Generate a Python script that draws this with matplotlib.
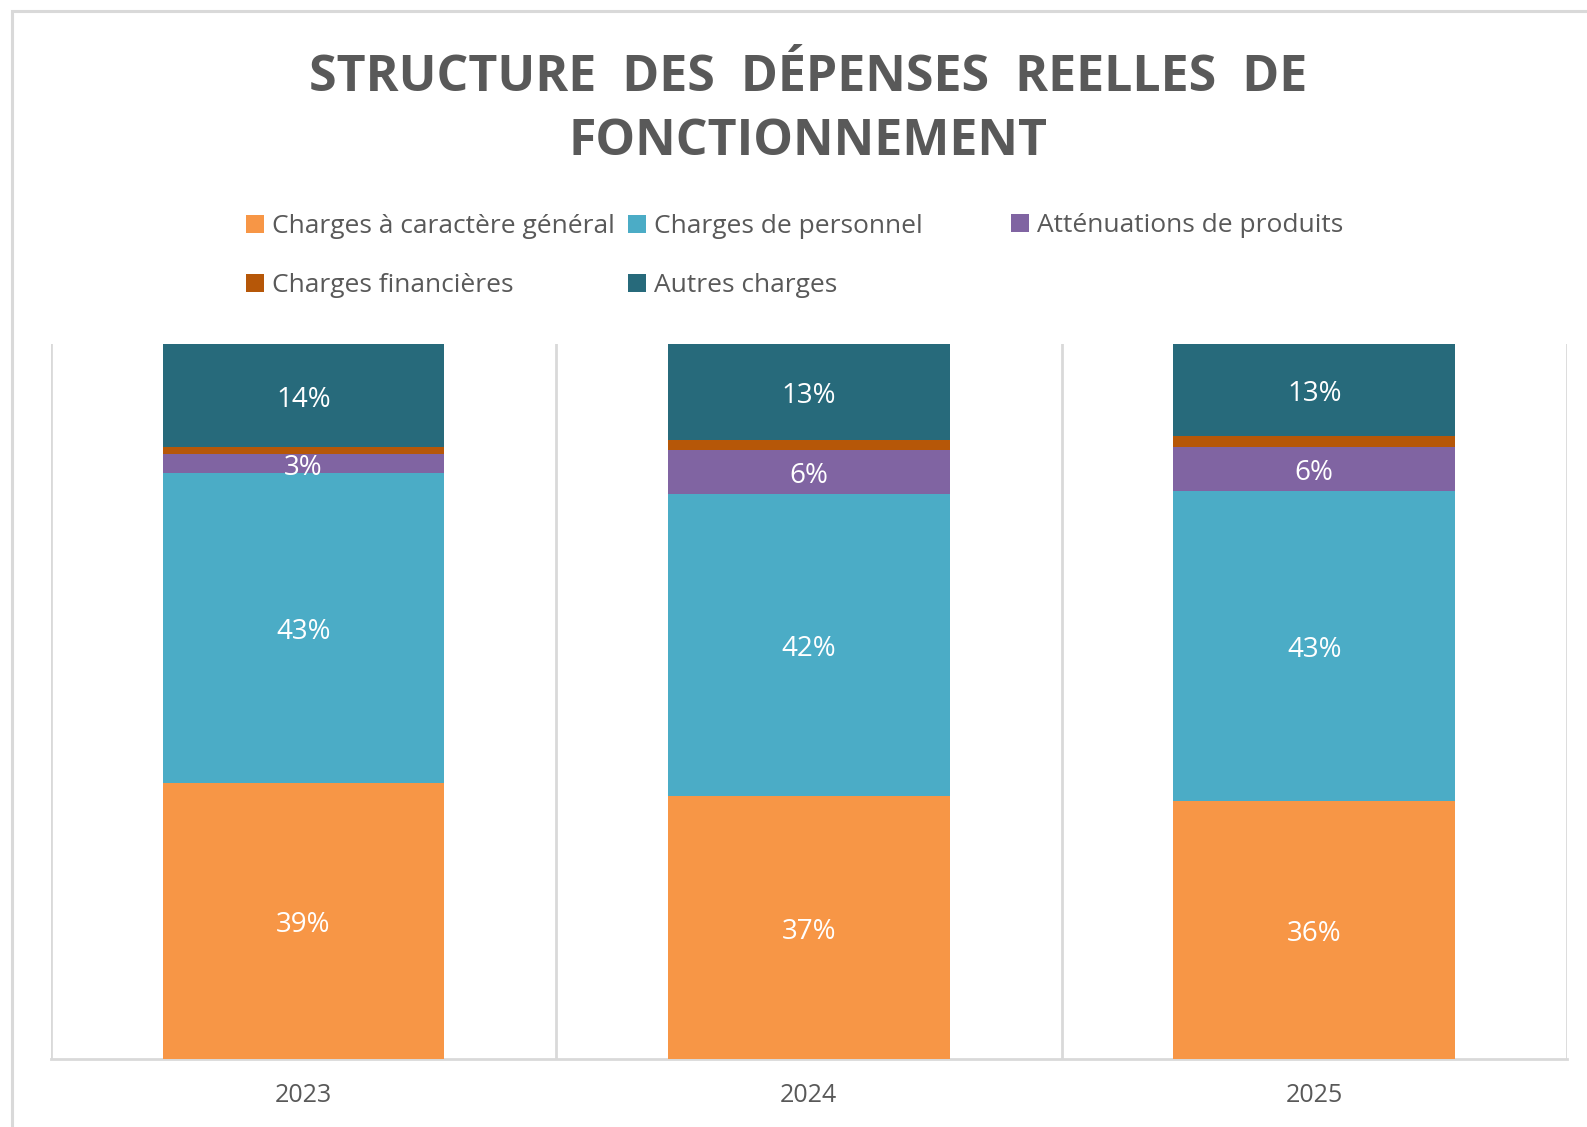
import matplotlib.pyplot as plt
from matplotlib.patches import Rectangle
import numpy as np

# Data (percent share of real operating expenses)
years = ['2023', '2024', '2025']
series_names = ['Charges à caractère général', 'Charges de personnel',
                'Atténuations de produits', 'Charges financières', 'Autres charges']
charges_generales = [38.6, 36.8, 36.1]
charges_personnel = [43.3, 42.2, 43.3]
attenuations = [2.7, 6.2, 6.2]
charges_financieres = [1.0, 1.4, 1.6]
autres_charges = [14.4, 13.4, 12.8]
show_labels = [True, True, True, False, True]

colors = ['#F79646', '#4BACC6', '#8064A2', '#B65708', '#276A7B']
grey = '#595959'
line_grey = '#D9D9D9'

W, H = 1587, 1127
fig = plt.figure(figsize=(W / 100, H / 100), dpi=100)
plt.rcParams['font.family'] = ['Open Sans', 'DejaVu Sans']

# chart frame (only left and top edges are visible in the crop)
fig.add_artist(Rectangle((12 / W, -0.2), 1.2, 1.2 - 11 / H, transform=fig.transFigure,
                         fill=False, edgecolor=line_grey, lw=2.2, clip_on=False))

ax = fig.add_axes([50.6 / W, (H - 1059) / H, (1567 - 50.6) / W, (1059 - 344) / H])

x = np.arange(len(years))
values = [charges_generales, charges_personnel, attenuations, charges_financieres, autres_charges]
bottom = np.zeros(len(years))
containers = []
for name, vals, col, lab in zip(series_names, values, colors, show_labels):
    bars = ax.bar(x, vals, 0.557, bottom=bottom, color=col, label=name, zorder=3)
    if lab:
        ax.bar_label(bars, labels=[f'{v:.0f}%' for v in vals], label_type='center',
                     color='white', fontsize=20, padding=-3)
    containers.append(bars)
    bottom += np.array(vals)

ax.set_xlim(-0.5, 2.5)
ax.set_ylim(0, 100)
ax.set_yticks([])
ax.set_xticks(x)
ax.set_xticklabels(years)
ax.set_xticks(np.arange(-0.5, 3, 1), minor=True)
ax.tick_params(axis='x', which='both', length=0, pad=17, labelsize=18, labelcolor=grey)
ax.grid(True, axis='x', which='minor', color=line_grey, lw=2, zorder=0)
for s in ['top', 'left', 'right']:
    ax.spines[s].set_visible(False)
ax.spines['bottom'].set_color(line_grey)
ax.spines['bottom'].set_linewidth(2)

fig.text(808 / W, 1 - 110 / H, 'STRUCTURE  DES  DÉPENSES  REELLES  DE\nFONCTIONNEMENT',
         ha='center', va='center', multialignment='center', fontsize=36,
         fontweight='bold', color=grey, linespacing=1.36)

# legend laid out in three columns at fixed positions, like the reference
leg_kw = dict(frameon=False, fontsize=19, labelcolor=grey, borderpad=0, borderaxespad=0,
              handlelength=0.68, handleheight=0.68, handletextpad=0.3, labelspacing=1.3)
groups = [([0, 3], 246, 256), ([1, 4], 628, 256), ([2], 1011, 226)]
for idx, lx, ly in groups:
    fig.legend([containers[i] for i in idx], [series_names[i] for i in idx],
               loc='center left', bbox_to_anchor=(lx / W, 1 - ly / H), **leg_kw)

fig.savefig('out.png', dpi=100)
